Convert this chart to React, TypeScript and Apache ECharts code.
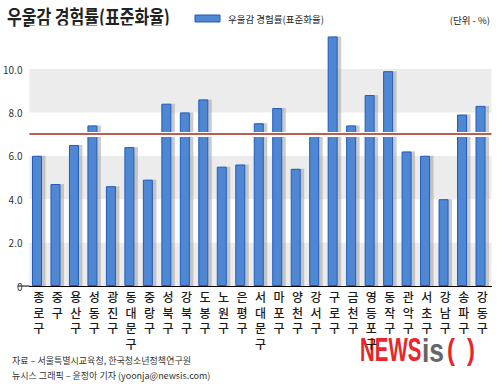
import React, { useEffect, useRef } from "react";
import * as echarts from "echarts";

const categories = ["종로구","중구","용산구","성동구","광진구","동대문구","중랑구","성북구","강북구","도봉구","노원구","은평구","서대문구","마포구","양천구","강서구","구로구","금천구","영등포구","동작구","관악구","서초구","강남구","송파구","강동구"];
const values = [6.0,4.7,6.5,7.4,4.6,6.4,4.9,8.4,8.0,8.6,5.5,5.6,7.5,8.2,5.4,7.1,11.5,7.4,8.8,9.9,6.2,6.0,4.0,7.9,8.3];
const average = 7.0;
const yTicks = [0, 2, 4, 6, 8, 10];

const TITLE = "우울감 경험률(표준화율)";
const SERIES_NAME = "우울감 경험률(표준화율)";
const AVG_LABEL = "평균 : 7.0";
const UNIT = "(단위 - %)";
const SOURCE1 = "자료 – 서울특별시교육청, 한국청소년정책연구원";
const SOURCE2 = "뉴시스 그래픽 – 윤정아 기자 (yoonja@newsis.com)";

const KR = "'Noto Sans CJK KR', 'Noto Sans', sans-serif";
const LOGO = "'Liberation Sans', Arial, sans-serif";

export default function App() {
  const ref = useRef<HTMLDivElement>(null);
  useEffect(() => {
    const chart = echarts.init(ref.current!, undefined, { renderer: "svg" });
    chart.setOption({
      animation: false,
      backgroundColor: "#ffffff",
      textStyle: { fontFamily: KR },
      grid: { left: 29.5, right: 8.5, top: 25.6, bottom: 98 },
      xAxis: {
        type: "category",
        data: categories,
        axisLine: { show: true, lineStyle: { color: "#000", width: 1 } },
        axisTick: { show: false },
        axisLabel: {
          interval: 0,
          margin: 3,
          fontSize: 12,
          lineHeight: 15.5,
          color: "#1a1a1a",
          fontWeight: 500,
          fontFamily: KR,
          formatter: (v: string) => v.split("").join("\n"),
        },
        splitLine: { show: false },
      },
      yAxis: {
        type: "value",
        min: 0,
        max: 12,
        interval: 2,
        axisLine: { show: false },
        axisTick: { show: false },
        splitLine: { show: false },
        splitArea: { show: true, areaStyle: { color: ["#ececec", "#ffffff"] } },
        axisLabel: {
          fontSize: 10,
          color: "#333",
          margin: 7,
          fontFamily: KR,
          formatter: (v: number) => (yTicks.indexOf(v) < 0 ? "" : v === 0 ? "0" : v.toFixed(1)),
        },
      },
      series: [
        {
          name: SERIES_NAME,
          type: "bar",
          data: values,
          barWidth: 10,
          barGap: "-65%",
          z: 3,
          itemStyle: {
            color: "#4f87d2",
            borderColor: "#1f5cbf",
            borderWidth: 1,
          },
          markLine: {
            silent: true,
            symbol: "none",
            label: { show: false },
            z: 5,
            data: [
              { yAxis: average, lineStyle: { color: "#ffffff", width: 5, type: "solid" } },
              { yAxis: average, lineStyle: { color: "#a3281b", width: 1.6, type: "solid" } },
            ],
          },
        },
        {
          name: "shadow",
          type: "bar",
          data: values,
          barWidth: 10,
          barGap: "-65%",
          z: 2,
          silent: true,
          itemStyle: { color: "#a8a8a8", opacity: 0.6 },
        },
      ],
      graphic: [
        {
          type: "text",
          x: 7,
          y: 6,
          scaleY: 1.25,
          style: { text: TITLE, fontSize: 16, fontWeight: "bold", fill: "#222", fontFamily: KR },
        },
        { type: "rect", shape: { x: 195, y: 15, width: 25, height: 7 }, style: { fill: "#4f87d2", stroke: "#1f5cbf", lineWidth: 1 } },
        {
          type: "text",
          x: 228,
          y: 19,
          style: { text: SERIES_NAME, fontSize: 9.5, fill: "#222", fontFamily: KR, verticalAlign: "middle" },
        },
        { type: "line", shape: { x1: 194, y1: 38, x2: 222, y2: 38 }, style: { stroke: "#a3281b", lineWidth: 1.6 } },
        {
          type: "text",
          x: 228,
          y: 38,
          style: { text: AVG_LABEL, fontSize: 10, fill: "#222", fontFamily: KR, verticalAlign: "middle" },
        },
        {
          type: "text",
          x: 490,
          y: 20,
          style: { text: UNIT, fontSize: 9.5, fill: "#222", fontFamily: KR, align: "right", verticalAlign: "middle" },
        },
        { type: "line", shape: { x1: 18, y1: 286, x2: 30, y2: 286 }, style: { stroke: "#000", lineWidth: 1 } },
        {
          type: "text",
          x: 12,
          y: 360,
          style: { text: SOURCE1, fontSize: 9, fill: "#333", fontFamily: KR, verticalAlign: "middle" },
        },
        {
          type: "text",
          x: 12,
          y: 375,
          style: { text: SOURCE2, fontSize: 9, fill: "#333", fontFamily: KR, verticalAlign: "middle" },
        },
        {
          type: "text",
          x: 360,
          y: 350,
          scaleX: 0.62,
          style: { text: "NEWS", fontSize: 33, fontWeight: "bold", fill: "#e8262b", fontFamily: LOGO, verticalAlign: "middle" },
        },
        {
          type: "text",
          x: 422,
          y: 350,
          scaleX: 0.8,
          style: { text: "is", fontSize: 33, fontWeight: "bold", fill: "#666666", fontFamily: LOGO, verticalAlign: "middle" },
        },
        {
          type: "text",
          x: 447,
          y: 350,
          scaleX: 0.8,
          style: { text: "(", fontSize: 30, fontWeight: "bold", fill: "#e8262b", fontFamily: LOGO, verticalAlign: "middle" },
        },
        {
          type: "text",
          x: 467,
          y: 350,
          scaleX: 0.8,
          style: { text: ")", fontSize: 30, fontWeight: "bold", fill: "#e8262b", fontFamily: LOGO, verticalAlign: "middle" },
        },
      ],
    });
    return () => chart.dispose();
  }, []);
  return <div ref={ref} style={{ position: "fixed", left: 0, top: 0, width: 500, height: 384 }} />;
}
